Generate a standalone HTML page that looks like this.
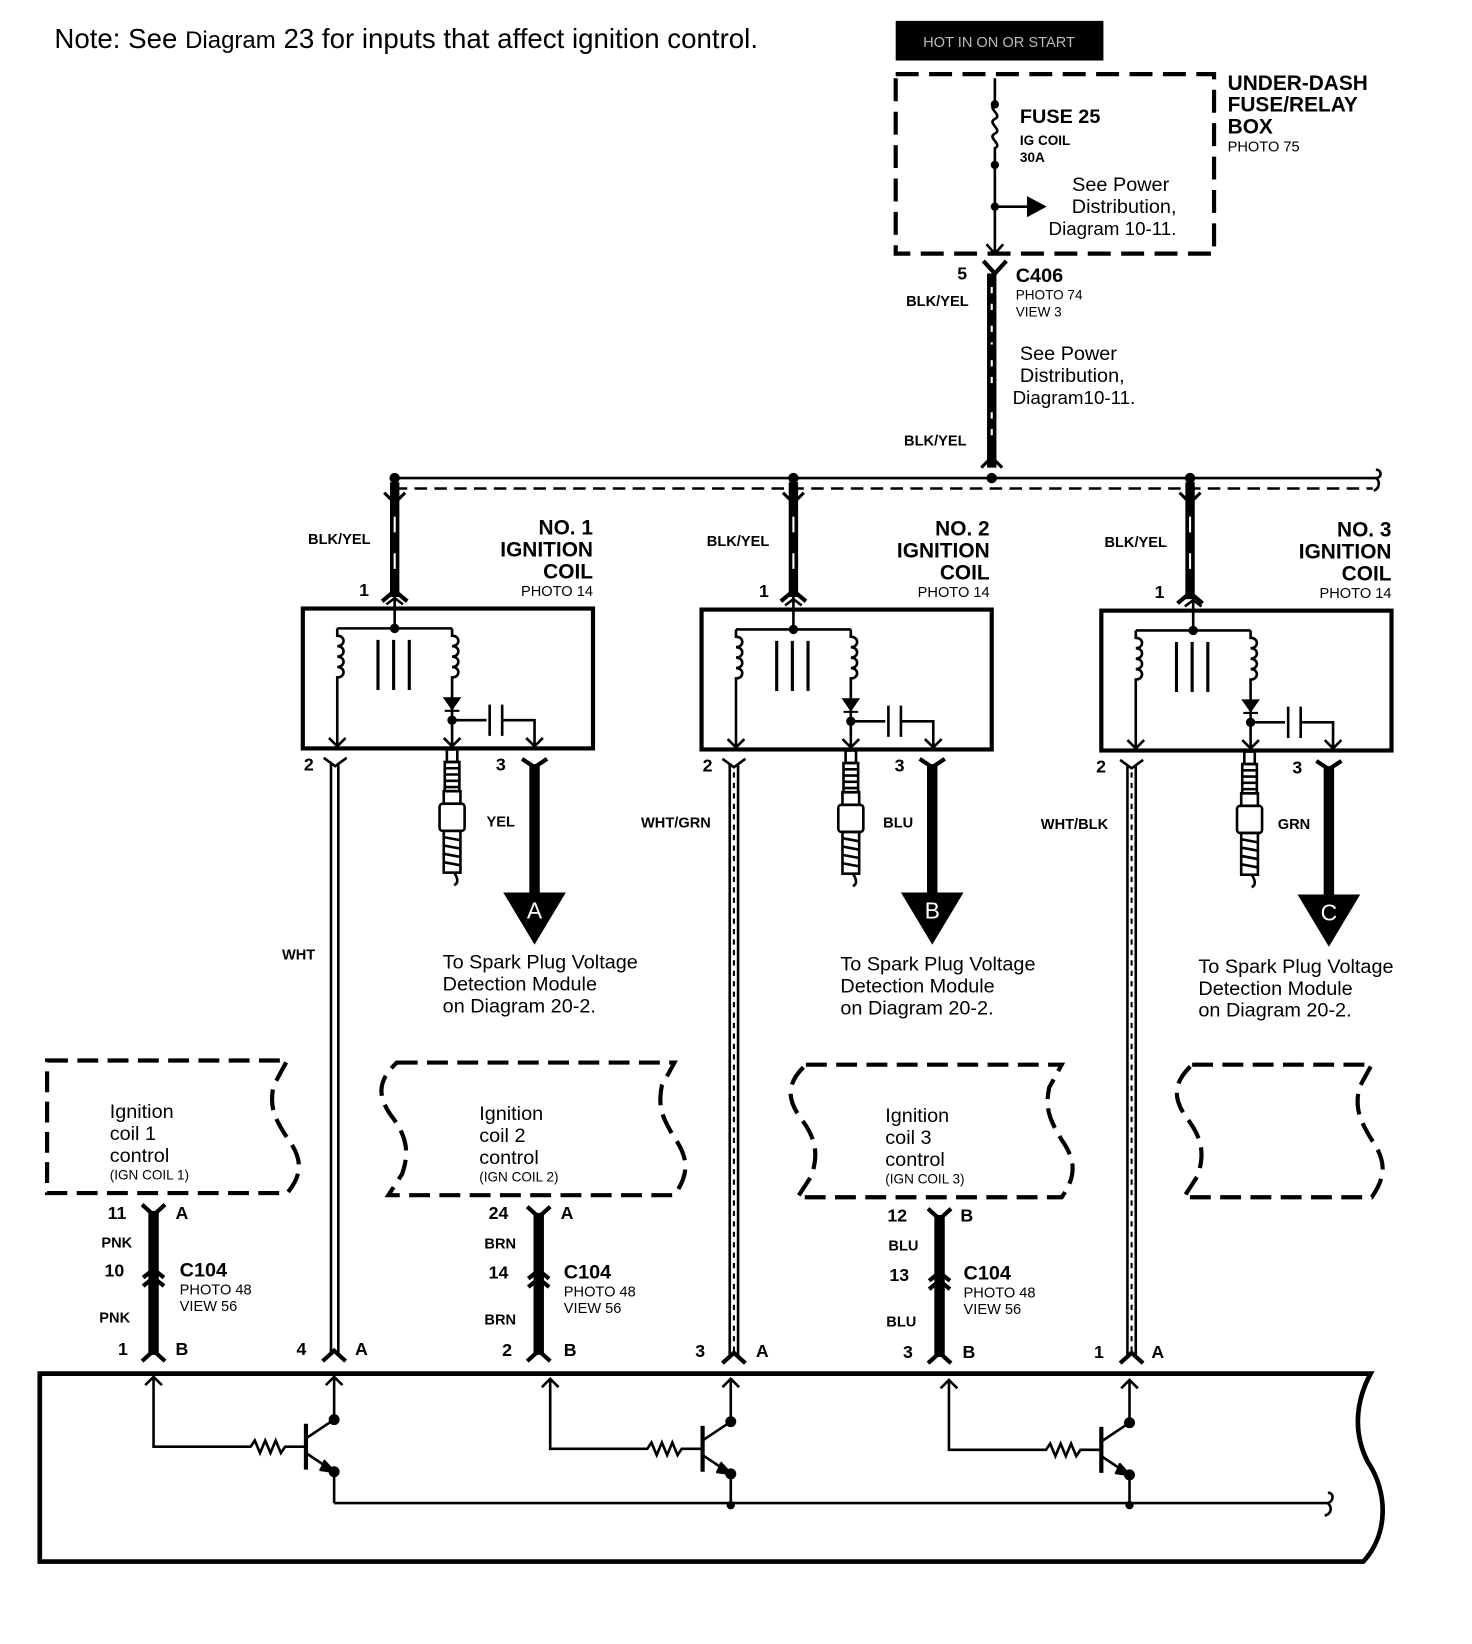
<!DOCTYPE html>
<html><head><meta charset="utf-8"><style>
html,body{margin:0;padding:0;background:#fff;}
svg{display:block;}
text{font-family:"Liberation Sans",sans-serif;fill:#000;}
.b{font-weight:bold;}
</style></head><body>
<svg width="1472" height="1644" viewBox="0 0 1410 1575" xmlns="http://www.w3.org/2000/svg">
<defs>
<g id="coil" fill="none" stroke="#000">
  <rect x="0" y="0" width="278" height="134" stroke-width="4"/>
  <path d="M88 -12 V19 M80 -4 L88 -10 L96 -4" stroke-width="2.5"/>
  <circle cx="88" cy="19" r="4" fill="#000"/>
  <path d="M33 19 H143" stroke-width="2.5"/>
  <path d="M33 19 V26 c8 0 8 10 0 10 c8 0 8 10 0 10 c8 0 8 10 0 10 c8 0 8 10 0 10 V132 M25 124 L33 132 L41 124" stroke-width="2.5"/>
  <path d="M72 30 V78 M87 30 V78 M102 30 V78" stroke-width="3"/>
  <path d="M143 19 V26 c8 0 8 10 0 10 c8 0 8 10 0 10 c8 0 8 10 0 10 c8 0 8 10 0 10 V132 M135 124 L143 132 L151 124" stroke-width="2.5"/>
  <path d="M136 86 H150 L143 96 Z M136 98 H150" fill="#000" stroke-width="2"/>
  <circle cx="143" cy="107" r="4" fill="#000"/>
  <path d="M143 107 H176 M179 92 V122 M191 92 V122 M191 107 H222 V132 M214 124 L222 132 L230 124" stroke-width="2.5"/>
</g>
<g id="plug" fill="none" stroke="#000" stroke-width="2.5">
  <rect x="-5" y="0" width="10" height="12"/>
  <rect x="-7" y="12" width="14" height="28"/>
  <path d="M-7 18 H7 M-7 24 H7 M-7 30 H7 M-7 36 H7"/>
  <rect x="-8" y="40" width="16" height="12"/>
  <rect x="-12" y="52" width="24" height="26" rx="3"/>
  <rect x="-8" y="78" width="16" height="40"/>
  <path d="M-8 84 L8 87 M-8 92 L8 95 M-8 100 L8 103 M-8 108 L8 111"/>
  <path d="M2 118 C 6 124 6 128 2 130"/>
</g>
<g id="trans" fill="none" stroke="#000" stroke-width="2.5">
  <path d="M-173 -41 V24 H-80 l4 -6 l5 12 l5 -12 l5 12 l5 -12 l5 12 l4 -6 H-28"/>
  <path d="M-27 2 V46" stroke-width="4"/>
  <path d="M-27 16 L0 -2 M-27 30 L0 48"/>
  <path d="M-10 37 L0 48 L-14 46" fill="#000"/>
  <circle cx="0" cy="-2" r="4" fill="#000"/><circle cx="0" cy="48" r="4" fill="#000"/>
  <path d="M0 -2 V-43 M-8 -35 L0 -43 L8 -35 M-173 -43 V-41 M-181 -35 L-173 -43 L-165 -35"/>
  <path d="M0 48 V78"/>
</g>
</defs>

<text x="52" y="46" font-size="26.5">Note: See <tspan font-size="23">Diagram</tspan> 23 for inputs that affect ignition control.</text>

<rect x="858" y="20" width="199" height="38" fill="#000"/>
<text x="957" y="45" font-size="14" text-anchor="middle" style="fill:#bbb" font-family="Liberation Serif">HOT IN ON OR START</text>

<rect x="858" y="71" width="305" height="172" fill="none" stroke="#000" stroke-width="4" stroke-dasharray="22 10"/>
<text class="b" x="1176" y="86" font-size="20">UNDER-DASH</text>
<text class="b" x="1176" y="107" font-size="20">FUSE/RELAY</text>
<text class="b" x="1176" y="128" font-size="20">BOX</text>
<text x="1176" y="145" font-size="14">PHOTO 75</text>
<g stroke="#000" stroke-width="2.5" fill="none">
<path d="M953 75 V100 c-8 4 8 10 0 14 c-8 4 8 10 0 14 c-8 4 8 10 0 14 V243 M953 198 H985"/>
<path d="M985 190 L1000 198 L985 206 Z" fill="#000"/>
<path d="M945 234 L953 243 L961 234"/>
</g>
<circle cx="953" cy="100" r="4"/><circle cx="953" cy="158" r="4"/><circle cx="953" cy="198" r="4"/>
<text class="b" x="977" y="118" font-size="19">FUSE 25</text>
<text class="b" x="977" y="139" font-size="13">IG COIL</text>
<text class="b" x="977" y="155" font-size="13">30A</text>
<text x="1120" y="183" font-size="19" text-anchor="end">See Power</text>
<text x="1127" y="204" font-size="19" text-anchor="end">Distribution,</text>
<text x="1127" y="225" font-size="18" text-anchor="end">Diagram 10-11.</text>

<path d="M942 250 L953 262 L964 250" fill="none" stroke="#000" stroke-width="4"/>
<path d="M950 262 V448" stroke="#000" stroke-width="9"/>
<path d="M950 275 V300 M950 312 V330 M950 345 V368 M950 395 V420" stroke="#fff" stroke-width="2" stroke-dasharray="6 10"/>
<path d="M940 448 L950 438 L960 448" fill="none" stroke="#000" stroke-width="3"/>
<text class="b" x="917" y="268" font-size="17">5</text>
<text class="b" x="973" y="270" font-size="19">C406</text>
<text x="973" y="287" font-size="13">PHOTO 74</text>
<text x="973" y="303" font-size="13">VIEW 3</text>
<text class="b" x="868" y="293" font-size="14">BLK/YEL</text>
<text class="b" x="866" y="427" font-size="14">BLK/YEL</text>
<text x="977" y="345" font-size="19">See Power</text>
<text x="977" y="366" font-size="19">Distribution,</text>
<text x="970" y="387" font-size="18">Diagram10-11.</text>

<path d="M378 458 H1318 c6 0 6 -8 0 -8 M1318 458 c4 2 4 10 -2 12" fill="none" stroke="#000" stroke-width="2.5"/>
<path d="M378 468 H1315" stroke="#000" stroke-width="2.5" stroke-dasharray="12 7"/>
<circle cx="378" cy="458" r="5"/><circle cx="760" cy="458" r="5"/><circle cx="950" cy="458" r="5"/><circle cx="1140" cy="458" r="5"/>

<g stroke="#000" fill="none">
<path d="M378 462 V572 M760 462 V572 M1140 462 V574" stroke-width="9"/>
<path d="M368 472 L378 482 L388 472 M750 472 L760 482 L770 472 M1130 472 L1140 482 L1150 472" stroke-width="3"/>
<path d="M366 576 L378 566 L390 576 M748 576 L760 566 L772 576 M1128 578 L1140 568 L1152 578" stroke-width="4"/>
</g>
<g stroke="#fff" stroke-width="2"><path d="M378 495 V510 M378 530 V545 M760 495 V510 M760 530 V545 M1140 495 V510 M1140 530 V545"/></g>
<text class="b" x="295" y="521" font-size="14">BLK/YEL</text>
<text class="b" x="677" y="523" font-size="14">BLK/YEL</text>
<text class="b" x="1058" y="524" font-size="14">BLK/YEL</text>
<text class="b" x="344" y="571" font-size="17">1</text>
<text class="b" x="727" y="572" font-size="17">1</text>
<text class="b" x="1106" y="573" font-size="17">1</text>

<g class="b" font-size="20" text-anchor="end">
<text x="568" y="512" class="b">NO. 1</text><text x="568" y="533" class="b">IGNITION</text><text x="568" y="554" class="b">COIL</text>
<text x="948" y="513" class="b">NO. 2</text><text x="948" y="534" class="b">IGNITION</text><text x="948" y="555" class="b">COIL</text>
<text x="1333" y="514" class="b">NO. 3</text><text x="1333" y="535" class="b">IGNITION</text><text x="1333" y="556" class="b">COIL</text>
</g>
<text x="568" y="571" font-size="14" text-anchor="end">PHOTO 14</text>
<text x="948" y="572" font-size="14" text-anchor="end">PHOTO 14</text>
<text x="1333" y="573" font-size="14" text-anchor="end">PHOTO 14</text>

<use href="#coil" x="290" y="583"/>
<use href="#coil" x="672" y="584"/>
<use href="#coil" x="1055" y="585"/>
<use href="#plug" x="433" y="718"/>
<use href="#plug" x="815" y="719"/>
<use href="#plug" x="1197" y="720"/>

<g stroke="#000" fill="none" stroke-width="2.5">
<path d="M310 726 L321 734 L332 726 M317 732 V1298 M324 732 V1298"/>
<path d="M692 727 L703 735 L714 727 M699 733 V1298 M707 733 V1298"/>
<path d="M1073 728 L1084 736 L1095 728 M1080 734 V1298 M1088 734 V1298"/>
<path d="M703 740 V1295 M1084 740 V1295" stroke-dasharray="5 5" stroke-width="2"/>
</g>
<g stroke="#000" fill="none">
<path d="M512 732 V858 M893 732 V858 M1273 734 V858" stroke-width="10"/>
<path d="M500 727 L512 735 L524 727 M881 727 L893 735 L905 727 M1261 729 L1273 737 L1285 729" stroke-width="4"/>
</g>
<path d="M482 855 H542 L512 905 Z M863 855 H923 L893 905 Z M1243 857 H1303 L1273 907 Z"/>
<g font-size="22" text-anchor="middle" style="fill:#fff"><text x="512" y="880" style="fill:#fff">A</text><text x="893" y="880" style="fill:#fff">B</text><text x="1273" y="882" style="fill:#fff">C</text></g>

<g class="b" font-size="17">
<text x="291" y="738">2</text><text x="475" y="738">3</text>
<text x="673" y="739">2</text><text x="857" y="739">3</text>
<text x="1050" y="740">2</text><text x="1238" y="741">3</text>
</g>
<g class="b" font-size="14">
<text x="466" y="792">YEL</text><text x="846" y="793">BLU</text><text x="1224" y="794">GRN</text>
<text x="270" y="919">WHT</text><text x="614" y="793">WHT/GRN</text><text x="997" y="794">WHT/BLK</text>
</g>
<g font-size="19">
<text x="424" y="928">To Spark Plug Voltage</text><text x="424" y="949">Detection Module</text><text x="424" y="970">on Diagram 20-2.</text>
<text x="805" y="930">To Spark Plug Voltage</text><text x="805" y="951">Detection Module</text><text x="805" y="972">on Diagram  20-2.</text>
<text x="1148" y="932">To Spark Plug Voltage</text><text x="1148" y="953">Detection Module</text><text x="1148" y="974">on Diagram 20-2.</text>
</g>

<g fill="none" stroke="#000" stroke-width="4" stroke-dasharray="20 9">
<path d="M45 1016 H275 L262 1040 C258 1060 262 1070 275 1090 C290 1110 290 1125 275 1143 H45 Z"/>
<path d="M380 1018 H646 L634 1040 C630 1060 634 1070 646 1090 C660 1110 660 1125 646 1145 H372 L385 1125 C392 1105 390 1090 377 1072 C360 1050 362 1035 380 1018 Z"/>
<path d="M772 1020 H1017 L1005 1042 C1001 1062 1005 1072 1017 1092 C1031 1112 1031 1127 1017 1147 H764 L777 1127 C784 1107 782 1092 769 1074 C752 1052 754 1037 772 1020 Z"/>
<path d="M1142 1020 H1314 L1302 1042 C1298 1062 1302 1072 1314 1092 C1328 1112 1328 1127 1314 1147 H1134 L1147 1127 C1154 1107 1152 1092 1139 1074 C1122 1052 1124 1037 1142 1020 Z"/>
</g>
<g font-size="19">
<text x="105" y="1071">Ignition</text><text x="105" y="1092">coil 1</text><text x="105" y="1113">control</text>
<text x="459" y="1073">Ignition</text><text x="459" y="1094">coil 2</text><text x="459" y="1115">control</text>
<text x="848" y="1075">Ignition</text><text x="848" y="1096">coil 3</text><text x="848" y="1117">control</text>
</g>
<g font-size="13">
<text x="105" y="1130">(IGN COIL 1)</text><text x="459" y="1132">(IGN COIL 2)</text><text x="848" y="1134">(IGN COIL 3)</text>
</g>

<g stroke="#000" fill="none">
<path d="M147 1160 V1298 M516 1162 V1298 M900 1164 V1300" stroke-width="10"/>
<g stroke-width="4">
<path d="M136 1154 L147 1164 L158 1154 M137 1224 L147 1216 L157 1224 M137 1232 L147 1224 L157 1232 M136 1304 L147 1294 L158 1304"/>
<path d="M505 1156 L516 1166 L527 1156 M506 1225 L516 1217 L526 1225 M506 1233 L516 1225 L526 1233 M505 1304 L516 1294 L527 1304"/>
<path d="M889 1158 L900 1168 L911 1158 M890 1227 L900 1219 L910 1227 M890 1235 L900 1227 L910 1235 M889 1306 L900 1296 L911 1306"/>
<path d="M309 1304 L320 1294 L331 1304 M692 1306 L703 1296 L714 1306 M1073 1306 L1084 1296 L1095 1306"/>
</g>
</g>
<g class="b" font-size="17">
<text x="103" y="1168">11</text><text x="168" y="1168">A</text><text x="100" y="1223">10</text><text x="113" y="1298">1</text><text x="168" y="1298">B</text>
<text x="468" y="1168">24</text><text x="537" y="1168">A</text><text x="468" y="1225">14</text><text x="481" y="1299">2</text><text x="540" y="1299">B</text>
<text x="850" y="1170">12</text><text x="920" y="1170">B</text><text x="852" y="1227">13</text><text x="865" y="1301">3</text><text x="922" y="1301">B</text>
<text x="284" y="1298">4</text><text x="340" y="1298">A</text><text x="666" y="1300">3</text><text x="724" y="1300">A</text><text x="1048" y="1301">1</text><text x="1103" y="1301">A</text>
</g>
<g class="b" font-size="14">
<text x="97" y="1195">PNK</text><text x="95" y="1267">PNK</text>
<text x="464" y="1196">BRN</text><text x="464" y="1269">BRN</text>
<text x="851" y="1198">BLU</text><text x="849" y="1271">BLU</text>
</g>
<g class="b" font-size="19"><text x="172" y="1223">C104</text><text x="540" y="1225">C104</text><text x="923" y="1226">C104</text></g>
<g font-size="14">
<text x="172" y="1240">PHOTO 48</text><text x="172" y="1256">VIEW 56</text>
<text x="540" y="1242">PHOTO 48</text><text x="540" y="1258">VIEW 56</text>
<text x="923" y="1243">PHOTO 48</text><text x="923" y="1259">VIEW 56</text>
</g>

<path d="M38 1496 V1316 H1313 C1300 1340 1295 1370 1310 1400 C1330 1430 1330 1470 1306 1496 Z" fill="none" stroke="#000" stroke-width="4.5"/>
<use href="#trans" x="320" y="1362"/>
<use href="#trans" x="700" y="1364"/>
<use href="#trans" x="1082" y="1365"/>
<path d="M320 1440 H1272 c6 -2 6 -10 0 -10 M1272 1440 c4 4 4 10 -3 12" fill="none" stroke="#000" stroke-width="2.5"/>
<circle cx="700" cy="1442" r="4"/><circle cx="1082" cy="1442" r="4"/>
</svg>
</body></html>
